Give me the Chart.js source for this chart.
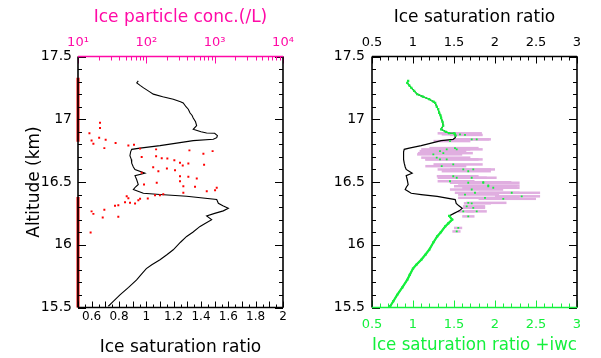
<!DOCTYPE html>
<html><head><meta charset="utf-8">
<script src="https://cdn.jsdelivr.net/npm/chart.js"></script>
<style>
html,body{margin:0;padding:0;background:#fff}
#wrap{position:relative;width:601px;height:358px;overflow:hidden}
#c1{position:absolute;left:0;top:0}
#c2{position:absolute;left:300px;top:0}
</style></head>
<body><div id="wrap"><canvas id="c1" width="300" height="358"></canvas><canvas id="c2" width="301" height="358"></canvas></div>
<script>
// ---------- tick labels ----------
const altitudeTicks = [15.5, 16, 16.5, 17, 17.5];
const satTicksLeft = [0.6, 0.8, 1, 1.2, 1.4, 1.6, 1.8, 2];
const concTicks = [10, 100, 1000, 10000];
const concTickLabels = ['10¹', '10²', '10³', '10⁴'];
const satTicksRight = [0.5, 1, 1.5, 2, 2.5, 3];

// ---------- ice saturation ratio profile (altitude km, ratio) ----------
const profileAlt = [17.306,17.29,17.27,17.25,17.226,17.2,17.18,17.16,17.14,17.13,17.1,17.08,17.05,17.03,17.01,16.98,16.95,16.92,16.9,16.89,16.888,16.87,16.853,16.84,16.83,16.81,16.79,16.77,16.76,16.74,16.71,16.68,16.65,16.62,16.6,16.57,16.55,16.52,16.48,16.46,16.44,16.41,16.4,16.386,16.36,16.33,16.31,16.29,16.27,16.25,16.23,16.2,16.17,16.146,16.1,16.066,16.02,15.96,15.92,15.88,15.84,15.81,15.76,15.72,15.66,15.6,15.55,15.51];
const profileSi  = [0.941,0.93,0.954,0.98,1.014,1.051,1.12,1.197,1.25,1.27,1.29,1.307,1.32,1.335,1.343,1.36,1.368,1.343,1.4,1.441,1.5,1.52,1.515,1.49,1.343,1.222,1.1,0.954,0.893,0.885,0.88,0.89,0.893,0.905,0.917,0.99,0.917,0.929,0.941,0.92,0.905,0.978,1.1,1.295,1.515,1.527,1.56,1.6,1.563,1.5,1.441,1.478,1.43,1.393,1.34,1.295,1.25,1.197,1.15,1.1,1.04,1.0,0.96,0.929,0.87,0.807,0.76,0.722];

// ---------- ice particle concentration (/L) ----------
const particleAlt  = [16.973,16.93,16.888,16.83,16.805,16.853,16.837,16.77,16.81,16.79,16.797,16.766,16.76,16.752,16.726,16.746,16.7,16.706,16.69,16.688,16.674,16.654,16.648,16.638,16.632,16.618,16.608,16.586,16.594,16.574,16.546,16.542,16.528,16.506,16.466,16.48,16.494,16.462,16.454,16.426,16.434,16.414,16.386,16.37,16.354,16.366,16.368,16.394,16.394,16.402,16.338,16.334,16.328,16.314,16.31,16.278,16.266,16.246,16.218,16.224,16.098];
const particleConc = [21,21,14.7,15.8,16.8,20.4,25.4,24.3,35.5,54.6,66,81,139,427,684,933,85.5,139,168,203,257,311,412,700,341,126,200,150,263,85.5,311,412,547,311,348,92.5,142,516,1072,766,1014,348,51.6,54.6,76.4,81,105,134,158,177,48.8,57.7,68.4,38.9,34.8,24.3,15.8,16.8,23,38.9,15.3];
// altitudes where no particles were detected (plotted at axis floor)
const zeroConcFloor = 10;
const zeroConcUpper = [17.33, 16.82];
const zeroConcLower = [16.38, 15.5];

// ---------- ice saturation ratio + iwc inside cloud ----------
const cloudAlt  = [16.888,16.88,16.875,16.84,16.84,16.826,16.77,16.76,16.76,16.746,16.73,16.72,16.694,16.68,16.68,16.626,16.64,16.6,16.586,16.6,16.546,16.534,16.534,16.494,16.494,16.472,16.506,16.498,16.466,16.454,16.44,16.414,16.4,16.414,16.386,16.374,16.366,16.334,16.33,16.306,16.294,16.266,16.266,16.226,16.134,16.106];
const cloudSi   = [1.512,1.573,1.634,1.716,1.777,1.451,1.512,1.533,1.411,1.329,1.37,1.248,1.289,1.329,1.411,1.35,1.491,1.613,1.674,1.735,1.491,1.533,1.716,1.674,1.857,1.918,1.451,1.857,1.918,1.979,1.716,1.756,1.634,2.204,2.326,1.878,2.101,1.674,1.716,1.655,1.735,1.777,1.613,1.674,1.552,1.533];
const cloudLow  = [1.30,1.35,1.45,1.50,1.55,1.25,1.20,1.25,1.10,1.08,1.06,1.05,1.10,1.15,1.15,1.15,1.25,1.30,1.35,1.45,1.29,1.30,1.45,1.45,1.50,1.55,1.30,1.60,1.50,1.60,1.45,1.51,1.55,1.80,2.00,1.55,1.80,1.65,1.62,1.61,1.61,1.65,1.55,1.60,1.50,1.48];
const cloudHigh = [1.84,1.80,1.85,1.93,1.95,1.70,1.80,1.85,1.70,1.65,1.73,1.60,1.70,1.80,1.85,1.65,1.85,1.95,1.95,2.00,1.80,1.90,2.02,2.10,2.30,2.30,1.75,2.20,2.27,2.30,2.10,2.30,2.05,2.55,2.55,2.30,2.50,2.14,1.95,1.88,1.88,1.90,1.75,1.75,1.60,1.58];
// clear air: +iwc equals the saturation ratio above / below the cloud
const clearAbove = 16.86;
const clearBelow = 16.23;

// ---------- colours & fonts ----------
const MAGENTA = '#ff0aa6';
const GREEN = '#14f03c';
const PINK = '#e0aee0';
const FONT = "'DejaVu Sans', sans-serif";

const profilePts = profileAlt.map((a, i) => ({x: profileSi[i], y: a}));
const particlePts = particleAlt.map((a, i) => ({x: particleConc[i], y: a}));
const greenTop = profilePts.filter(p => p.y >= clearAbove);
const greenBottom = profilePts.filter(p => p.y <= clearBelow);
const cloudPts = cloudAlt.map((a, i) => ({x: cloudSi[i], y: a}));

function stepTicks(from, to, step, majorEvery, minorLen, majorLen) {
  const out = [];
  const n = Math.round((to - from) / step);
  for (let k = 0; k <= n; k++) out.push({v: from + k * step, len: (k % majorEvery === 0) ? majorLen : minorLen});
  return out;
}
function logTicks(fromExp, toExp) {
  const out = [];
  for (let e = fromExp; e < toExp; e++) {
    out.push({v: Math.pow(10, e), len: 7});
    for (let m = 2; m <= 9; m++) out.push({v: m * Math.pow(10, e), len: 4});
  }
  out.push({v: Math.pow(10, toExp), len: 7});
  return out;
}
const altTickMarks = stepTicks(15.5, 17.5, 0.1, 5, 4, 8);

function framePlugin(cfg) {
  return {
    id: 'frame_' + cfg.name,
    afterDatasetsDraw(chart) {
      const {ctx, chartArea: a, scales} = chart;
      ctx.save();
      ctx.lineWidth = 1;
      for (const s of cfg.sides) {
        const sc = scales[s.scale];
        ctx.strokeStyle = s.color;
        for (const t of s.ticks) {
          const p = Math.round(sc.getPixelForValue(t.v)) + 0.5;
          ctx.beginPath();
          if (s.pos === 'bottom') { ctx.moveTo(p, a.bottom); ctx.lineTo(p, a.bottom - t.len); }
          if (s.pos === 'top') { ctx.moveTo(p, a.top); ctx.lineTo(p, a.top + t.len); }
          if (s.pos === 'left') { ctx.moveTo(a.left, p); ctx.lineTo(a.left + t.len, p); }
          if (s.pos === 'right') { ctx.moveTo(a.right, p); ctx.lineTo(a.right - t.len, p); }
          ctx.stroke();
        }
      }
      ctx.lineWidth = 1.6;
      const edges = {
        top: [a.left, a.top, a.right, a.top],
        bottom: [a.left, a.bottom, a.right, a.bottom],
        left: [a.left, a.top, a.left, a.bottom],
        right: [a.right, a.top, a.right, a.bottom]
      };
      for (const k of ['left', 'right', 'top', 'bottom']) {
        ctx.strokeStyle = cfg.edge[k];
        const e = edges[k];
        ctx.beginPath(); ctx.moveTo(e[0], e[1]); ctx.lineTo(e[2], e[3]); ctx.stroke();
      }
      ctx.restore();
    }
  };
}

const errorBarPlugin = {
  id: 'errorBars',
  beforeDatasetsDraw(chart) {
    const {ctx, scales: {x, y}} = chart;
    ctx.save();
    ctx.fillStyle = PINK;
    cloudAlt.forEach((a, i) => {
      const x0 = x.getPixelForValue(cloudLow[i]);
      const x1 = x.getPixelForValue(cloudHigh[i]);
      const py = y.getPixelForValue(a);
      ctx.fillRect(x0, py - 1.25, x1 - x0, 2.5);
    });
    ctx.restore();
  }
};

const noGrid = {display: false, drawTicks: false};
const noBorder = {display: false};
function fixedTicks(vals) { return s => { s.ticks = vals.map(v => ({value: v})); }; }

// ---------------- LEFT CHART ----------------
new Chart(document.getElementById('c1'), {
  type: 'scatter',
  data: {datasets: [
    {data: particlePts, xAxisID: 'xc', yAxisID: 'y', backgroundColor: '#ff0000', borderWidth: 0, pointRadius: 1.4, pointStyle: 'rect', order: 1},
    {type: 'line', data: profilePts, xAxisID: 'x', yAxisID: 'y', borderColor: '#000', borderWidth: 1.1, pointRadius: 0, tension: 0, order: 2},
    {type: 'line', data: zeroConcUpper.map(a => ({x: zeroConcFloor, y: a})), xAxisID: 'xc', yAxisID: 'y', borderColor: '#ff0000', borderWidth: 3, pointRadius: 0, clip: false, order: 0},
    {type: 'line', data: zeroConcLower.map(a => ({x: zeroConcFloor, y: a})), xAxisID: 'xc', yAxisID: 'y', borderColor: '#ff0000', borderWidth: 3, pointRadius: 0, clip: false, order: 0}
  ]},
  options: {
    responsive: false, animation: false, devicePixelRatio: 1,
    layout: {padding: {left: 0, right: 17, top: 0, bottom: 0}},
    plugins: {legend: {display: false}, tooltip: {enabled: false}},
    scales: {
      x: {type: 'linear', position: 'bottom', min: 0.5, max: 2, grid: noGrid, border: noBorder,
          afterBuildTicks: fixedTicks(satTicksLeft),
          ticks: {autoSkip: false, maxRotation: 0, padding: 2, color: '#000', font: {family: FONT, size: 12}, callback: v => String(v)},
          title: {display: true, text: 'Ice saturation ratio', color: '#000', font: {family: FONT, size: 17, lineHeight: 1}, padding: {top: 0, bottom: 2}},
          afterFit: s => { s.height = 50.5; }},
      xc: {type: 'logarithmic', position: 'top', min: 10, max: 10000, grid: noGrid, border: noBorder,
          afterBuildTicks: fixedTicks(concTicks),
          ticks: {autoSkip: false, maxRotation: 0, padding: 6, color: MAGENTA, font: {family: FONT, size: 13}, callback: (v) => concTickLabels[concTicks.indexOf(v)]},
          title: {display: true, text: 'Ice particle conc.(/L)', color: MAGENTA, font: {family: FONT, size: 17, lineHeight: 1}, padding: {top: 9, bottom: 0}},
          afterFit: s => { s.height = 56.5; }},
      y: {type: 'linear', position: 'left', min: 15.5, max: 17.5, grid: noGrid, border: noBorder,
          afterBuildTicks: fixedTicks(altitudeTicks),
          ticks: {autoSkip: false, padding: 6, color: '#000', font: {family: FONT, size: 14}, callback: v => String(v)},
          title: {display: true, text: 'Altitude (km)', color: '#000', font: {family: FONT, size: 17, lineHeight: 1}, padding: {top: 26, bottom: 0}},
          afterFit: s => { s.width = 78; }}
    }
  },
  plugins: [framePlugin({
    name: 'left',
    edge: {left: '#000', right: '#000', top: MAGENTA, bottom: '#000'},
    sides: [
      {pos: 'left', scale: 'y', color: '#000', ticks: altTickMarks},
      {pos: 'right', scale: 'y', color: '#000', ticks: altTickMarks},
      {pos: 'bottom', scale: 'x', color: '#000', ticks: stepTicks(0.5, 2, 0.05, 2, 3, 6)},
      {pos: 'top', scale: 'xc', color: MAGENTA, ticks: logTicks(1, 4)}
    ]
  })]
});

// ---------------- RIGHT CHART ----------------
new Chart(document.getElementById('c2'), {
  type: 'scatter',
  data: {datasets: [
    {data: cloudPts, xAxisID: 'x', yAxisID: 'y', backgroundColor: GREEN, borderWidth: 0, pointRadius: 1.3, pointStyle: 'rect', order: 0},
    {type: 'line', data: greenTop, xAxisID: 'x', yAxisID: 'y', borderColor: GREEN, borderWidth: 1.3, pointRadius: 1.6, pointStyle: 'rect', pointBackgroundColor: GREEN, pointBorderWidth: 0, tension: 0, order: 1},
    {type: 'line', data: greenBottom, xAxisID: 'x', yAxisID: 'y', borderColor: GREEN, borderWidth: 2.2, pointRadius: 1.6, pointStyle: 'rect', pointBackgroundColor: GREEN, pointBorderWidth: 0, tension: 0, order: 1},
    {type: 'line', data: profilePts, xAxisID: 'x', yAxisID: 'y', borderColor: '#000', borderWidth: 1.2, pointRadius: 0, tension: 0, order: 2}
  ]},
  options: {
    responsive: false, animation: false, devicePixelRatio: 1,
    layout: {padding: {left: 0, right: 24, top: 0, bottom: 0}},
    plugins: {legend: {display: false}, tooltip: {enabled: false}},
    scales: {
      x: {type: 'linear', position: 'bottom', min: 0.5, max: 3, grid: noGrid, border: noBorder,
          afterBuildTicks: fixedTicks(satTicksRight),
          ticks: {autoSkip: false, maxRotation: 0, padding: 9, color: GREEN, font: {family: FONT, size: 13}, callback: v => String(v)},
          title: {display: true, text: 'Ice saturation ratio +iwc', color: GREEN, font: {family: FONT, size: 17, lineHeight: 1}, padding: {top: 0, bottom: 4}},
          afterFit: s => { s.height = 50.5; }},
      xt: {type: 'linear', position: 'top', min: 0.5, max: 3, grid: noGrid, border: noBorder,
          afterBuildTicks: fixedTicks(satTicksRight),
          ticks: {autoSkip: false, maxRotation: 0, padding: 6, color: '#000', font: {family: FONT, size: 13}, callback: v => String(v)},
          title: {display: true, text: 'Ice saturation ratio', color: '#000', font: {family: FONT, size: 17, lineHeight: 1}, padding: {top: 9, bottom: 0}},
          afterFit: s => { s.height = 56.5; }},
      y: {type: 'linear', position: 'left', min: 15.5, max: 17.5, grid: noGrid, border: noBorder,
          afterBuildTicks: fixedTicks(altitudeTicks),
          ticks: {autoSkip: false, padding: 7, color: '#000', font: {family: FONT, size: 14}, callback: v => String(v)},
          afterFit: s => { s.width = 72; }}
    }
  },
  plugins: [errorBarPlugin, framePlugin({
    name: 'right',
    edge: {left: '#000', right: '#000', top: '#000', bottom: GREEN},
    sides: [
      {pos: 'left', scale: 'y', color: '#000', ticks: altTickMarks},
      {pos: 'right', scale: 'y', color: '#000', ticks: altTickMarks},
      {pos: 'bottom', scale: 'x', color: GREEN, ticks: stepTicks(0.5, 3, 0.1, 5, 4, 7)},
      {pos: 'top', scale: 'xt', color: '#000', ticks: stepTicks(0.5, 3, 0.1, 5, 4, 7)}
    ]
  })]
});
</script>
</body></html>
